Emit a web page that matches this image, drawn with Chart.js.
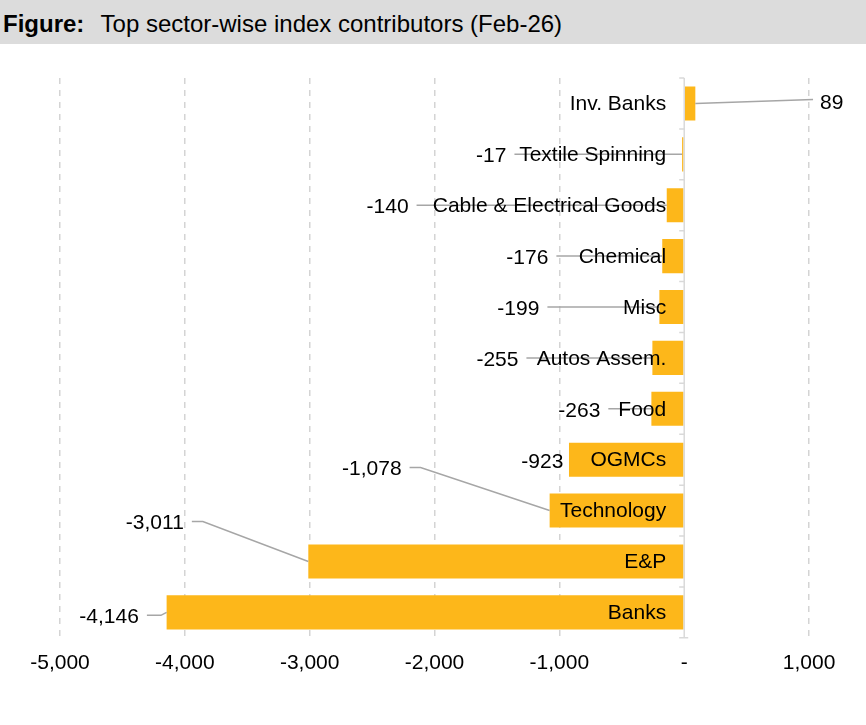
<!DOCTYPE html>
<html>
<head>
<meta charset="utf-8">
<script src="https://cdn.jsdelivr.net/npm/chart.js@4"></script>
<style>
  body { margin: 0; background: #fff; font-family: "Liberation Sans", Arial, sans-serif; }
  .title {
    width: 866px; height: 44px; background: #dcdcdc;
    font-size: 24px; line-height: 48px; padding-left: 3px; box-sizing: border-box; color: #000;
    white-space: nowrap;
  }
  .title b { margin-right: 10px; }
  .wrap { position: relative; width: 866px; height: 681px; }
</style>
</head>
<body>
<div class="title"><b>Figure:</b> Top sector-wise index contributors (Feb-26)</div>
<div class="wrap"><canvas id="sectorChart"></canvas></div>
<script>
// sectors, top to bottom
const sectors = ['Inv. Banks', 'Textile Spinning', 'Cable & Electrical Goods', 'Chemical', 'Misc',
  'Autos Assem.', 'Food', 'OGMCs', 'Technology', 'E&P', 'Banks'];
const contribution = [89, -17, -140, -176, -199, -255, -263, -923, -1078, -3011, -4146];
const xTicks = [-5000, -4000, -3000, -2000, -1000, 0, 1000];

const FONT = '"Liberation Sans", Arial, sans-serif';

// where each value label sits (x in axis units, dy in px from the bar centre)
const callouts = [
  { x: 1088, dy: -2 },
  { x: -1424, dy: 0 },
  { x: -2208, dy: 0 },
  { x: -1088, dy: 0 },
  { x: -1160, dy: 0 },
  { x: -1328, dy: 0 },
  { x: -672, dy: 0 },
  { x: -968, dy: 1, noLine: true },
  { x: -2264, dy: -43, elbow: 11 },
  { x: -4008, dy: -40, elbow: 11 },
  { x: -4368, dy: 3, elbow: 14 }
];

const fmt = v => v === 0 ? '-' : v.toLocaleString('en-US');

const labelPlugin = {
  id: 'sectorLabels',
  afterDatasetsDraw(chart) {
    const ctx = chart.ctx;
    const xs = chart.scales.x;
    const area = chart.chartArea;
    const bars = chart.getDatasetMeta(0).data;
    const x0 = xs.getPixelForValue(0);
    ctx.save();

    // zero axis with small ticks between categories
    ctx.strokeStyle = '#d9d9d9';
    ctx.lineWidth = 1.5;
    ctx.beginPath();
    ctx.moveTo(x0, area.top);
    ctx.lineTo(x0, area.bottom);
    const step = (area.bottom - area.top) / sectors.length;
    for (let i = 0; i <= sectors.length; i++) {
      const y = area.top + i * step;
      ctx.moveTo(x0 - 5, y);
      ctx.lineTo(x0, y);
    }
    ctx.moveTo(x0, area.bottom);
    ctx.lineTo(x0 + 4, area.bottom);
    ctx.stroke();

    // leader lines
    ctx.strokeStyle = '#a6a6a6';
    ctx.lineWidth = 1.5;
    bars.forEach((bar, i) => {
      const c = callouts[i];
      if (c.noLine) return;
      const v = contribution[i];
      const lx = xs.getPixelForValue(c.x);
      const ly = bar.y + c.dy;
      const endX = xs.getPixelForValue(v);
      ctx.beginPath();
      if (v < 0) {
        const sx = lx + 8;
        ctx.moveTo(sx, ly);
        if (c.elbow) ctx.lineTo(sx + c.elbow, ly);
        ctx.lineTo(endX, bar.y);
      } else {
        ctx.moveTo(endX, bar.y);
        ctx.lineTo(lx - 7, ly - 2);
      }
      ctx.stroke();
    });

    // value labels
    ctx.fillStyle = '#000';
    ctx.font = '21px ' + FONT;
    ctx.textBaseline = 'middle';
    bars.forEach((bar, i) => {
      const c = callouts[i];
      const v = contribution[i];
      ctx.textAlign = v < 0 ? 'right' : 'left';
      ctx.fillText(fmt(v), xs.getPixelForValue(c.x), bar.y + c.dy + 2);
    });

    // sector names next to the zero line
    ctx.textAlign = 'right';
    bars.forEach((bar, i) => {
      ctx.fillText(sectors[i], x0 - 18, bar.y + 1);
    });
    ctx.restore();
  }
};

new Chart(document.getElementById('sectorChart'), {
  type: 'bar',
  data: {
    labels: sectors,
    datasets: [{
      data: contribution,
      backgroundColor: '#fdb71a',
      borderWidth: 0,
      barPercentage: 0.67,
      categoryPercentage: 1
    }]
  },
  options: {
    indexAxis: 'y',
    responsive: true,
    maintainAspectRatio: false,
    animation: false,
    layout: { padding: { left: 60, right: 7, top: 34, bottom: 36 } },
    plugins: { legend: { display: false }, tooltip: { enabled: false } },
    scales: {
      x: {
        min: -5000,
        max: 1400,
        afterBuildTicks: axis => { axis.ticks = xTicks.map(v => ({ value: v })); },
        ticks: {
          callback: v => fmt(v),
          color: '#000',
          font: { family: FONT, size: 21 },
          padding: 13,
          maxRotation: 0
        },
        grid: {
          color: c => c.tick && c.tick.value === 0 ? 'rgba(0,0,0,0)' : '#d4d4d4',
          lineWidth: 1.5,
          drawTicks: false
        },
        border: { display: false, dash: [6, 6] }
      },
      y: { display: false }
    }
  },
  plugins: [labelPlugin]
});
</script>
</body>
</html>
